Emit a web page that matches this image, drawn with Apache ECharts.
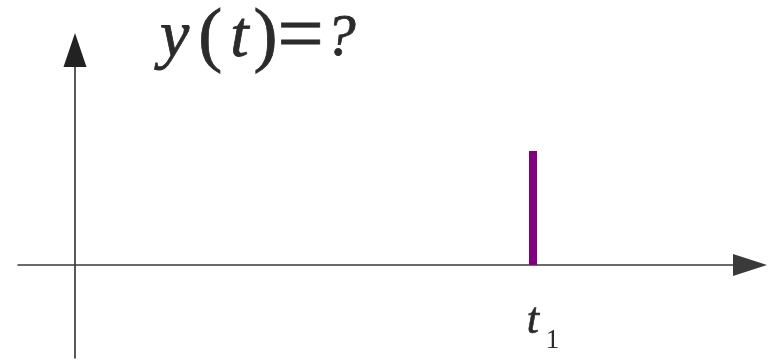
<!DOCTYPE html>
<html>
<head>
<meta charset="utf-8">
<script src="https://cdn.jsdelivr.net/npm/echarts@6/dist/echarts.min.js"></script>
<style>
  html, body { margin: 0; padding: 0; background: #fff; }
  #chart { width: 774px; height: 363px; }
</style>
</head>
<body>
<div id="chart"></div>
<script>
// 时间轴范围（任意单位）
var tRange = [-57, 675];
var yRange = [-93, 215];
// 脉冲位置 t1 与高度
var impulseT = [458];
var impulseVal = [114];
var tickLabels = ['t1'];

var pulseData = impulseT.map(function (t, i) { return [t, impulseVal[i]]; });

var myChart = echarts.init(document.getElementById('chart'));

var serif = '"Liberation Serif", "DejaVu Serif", serif';
var ink = '#2b2b2b';

// 字形稍微加粗，接近原图
function glyph(size, italic, pad) {
    return {
        fontFamily: serif,
        fontStyle: italic ? 'italic' : 'normal',
        fontWeight: 'normal',
        fontSize: size,
        color: ink,
        textBorderColor: ink,
        textBorderWidth: 0.8,
        padding: pad || 0
    };
}

var option = {
    animation: false,
    backgroundColor: '#fff',
    title: {
        // y(t)=?
        text: '{y|y}{lp|(}{t|t}{rp|)}{eq|=}{q|?}',
        left: 160,
        top: -2,
        padding: 0,
        textStyle: {
            fontFamily: serif,
            fontWeight: 'normal',
            fontSize: 66,
            color: ink,
            rich: {
                y: glyph(66, true),
                lp: glyph(72, false, [0, 0, 0, 9]),
                t: glyph(66, true, [0, 0, 0, 8]),
                rp: glyph(72, false, [0, 0, 0, 5]),
                eq: glyph(82, false),
                q: glyph(60, true, [0, 0, 0, 2])
            }
        }
    },
    grid: { left: 18, right: 24, top: 50, bottom: 5, outerBoundsMode: 'none', containLabel: false },
    xAxis: {
        type: 'value',
        min: tRange[0],
        max: tRange[1],
        splitLine: { show: false },
        axisTick: { show: false },
        axisLabel: { show: false },
        axisLine: {
            onZero: true,
            symbol: ['none', 'triangle'],
            symbolSize: [22, 34],
            lineStyle: { color: '#3a3a3a', width: 1.5 }
        }
    },
    yAxis: {
        type: 'value',
        min: yRange[0],
        max: yRange[1],
        splitLine: { show: false },
        axisTick: { show: false },
        axisLabel: { show: false },
        axisLine: {
            onZero: true,
            symbol: ['none', 'triangle'],
            symbolSize: [23, 34],
            lineStyle: { color: '#222', width: 1.5 }
        }
    },
    series: [
        {
            name: 'impulse',
            type: 'bar',
            barWidth: 8,
            itemStyle: { color: '#800080' },
            label: {
                show: true,
                position: 'bottom',
                distance: 34,
                offset: [10, 0],
                formatter: function (p) {
                    var s = tickLabels[p.dataIndex] || '';
                    return '{t|' + s.charAt(0) + '}{s|' + s.slice(1) + '}';
                },
                rich: {
                    t: { fontFamily: serif, fontStyle: 'italic', fontSize: 44, lineHeight: 44, color: ink, verticalAlign: 'top', textBorderColor: ink, textBorderWidth: 0.6 },
                    s: { fontFamily: serif, fontSize: 27, lineHeight: 27, color: ink, verticalAlign: 'top', padding: [28, 0, 0, 7] }
                }
            },
            data: pulseData
        }
    ]
};

myChart.setOption(option);
</script>
</body>
</html>
